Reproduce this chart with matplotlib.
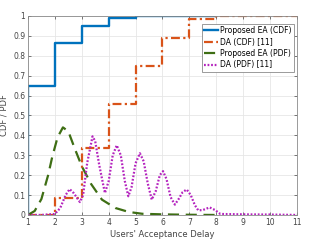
import numpy as np
import matplotlib.pyplot as plt

# CDF step values
ea_cdf_x = [1, 1, 2, 3, 4, 5, 8]
ea_cdf_y = [0, 0.65, 0.865, 0.95, 0.99, 1.0, 1.0]
da_cdf_x = [1, 2, 3, 4, 5, 6, 7, 8, 11]
da_cdf_y = [0, 0.085, 0.335, 0.555, 0.75, 0.89, 0.985, 1.0, 1.0]

# PDF curves
ea_pdf_x = [1.0, 1.25, 1.5, 1.75, 1.9, 2.1, 2.3, 2.5, 2.75, 3.0, 3.35, 3.75,
            4.25, 4.75, 5.25, 6.0, 7.0, 8.0]
ea_pdf_y = [0.0, 0.02, 0.08, 0.2, 0.29, 0.39, 0.44, 0.42, 0.33, 0.245, 0.155,
            0.077, 0.035, 0.015, 0.006, 0.003, 0.001, 0.0]

da_pdf_x = [1.0, 1.5, 2.0, 2.2, 2.4, 2.55, 2.7, 2.93, 3.05, 3.2, 3.4, 3.5,
            3.65, 3.86, 4.0, 4.15, 4.3, 4.45, 4.6, 4.73, 4.85, 5.0, 5.16,
            5.3, 5.45, 5.6, 5.75, 5.9, 6.02, 6.15, 6.3, 6.46, 6.6, 6.75, 6.9,
            7.05, 7.2, 7.33, 7.5, 7.75, 7.95, 8.15, 9.0, 10.0, 11.0]
da_pdf_y = [0.0, 0.0, 0.005, 0.035, 0.10, 0.13, 0.11, 0.065, 0.10, 0.26, 0.395,
            0.37, 0.25, 0.11, 0.17, 0.30, 0.35, 0.30, 0.17, 0.094, 0.14, 0.26,
            0.31, 0.27, 0.16, 0.077, 0.12, 0.20, 0.22, 0.18, 0.09, 0.052, 0.08,
            0.115, 0.128, 0.10, 0.05, 0.023, 0.025, 0.038, 0.025, 0.005, 0.003,
            0.002, 0.0]

fig = plt.figure(figsize=(3.14, 2.41), dpi=100)
ax = fig.add_axes([0.089, 0.108, 0.857, 0.826])

ax.step(ea_cdf_x, ea_cdf_y, where='post', color='#0072BD', lw=1.7,
        label='Proposed EA (CDF)')
ax.step(da_cdf_x, da_cdf_y, where='post', color='#D95319', lw=1.6,
        linestyle=(0, (4, 1.5, 1, 1.5)), label='DA (CDF) [11]')
ax.plot(ea_pdf_x, ea_pdf_y, color='#3E6E14', lw=1.6,
        linestyle=(0, (5, 3)), label='Proposed EA (PDF)')
ax.plot(da_pdf_x, da_pdf_y, color='#B422BE', lw=1.6,
        linestyle=(0, (0.8, 0.8)), label='DA (PDF) [11]')

ax.set_xlim(1, 11)
ax.set_ylim(0, 1)
ax.set_xticks(range(1, 12))
ax.set_yticks(np.arange(0, 1.01, 0.1))
ax.set_yticklabels(['0', '0.1', '0.2', '0.3', '0.4', '0.5', '0.6', '0.7',
                    '0.8', '0.9', '1'])
ax.tick_params(direction='in', labelsize=5.5, length=2.5, width=0.5,
               colors='#444444', pad=2, top=True, right=True)
ax.grid(True, color='#e6e6e6', lw=0.6)
ax.set_axisbelow(True)
for s in ax.spines.values():
    s.set_color('#8a8a8a')
    s.set_linewidth(0.6)

ax.set_xlabel("Users' Acceptance Delay", fontsize=6, color='#444444', labelpad=2)
ax.set_ylabel('CDF / PDF', fontsize=6, color='#444444', labelpad=3)

leg = ax.legend(loc='upper right', bbox_to_anchor=(0.989, 0.96), fontsize=5.5,
                handlelength=1.9, handletextpad=0.25, borderpad=0.3,
                labelspacing=0.32, fancybox=False, framealpha=1,
                borderaxespad=0)
leg.get_frame().set_edgecolor('#8a8a8a')
leg.get_frame().set_linewidth(0.6)

fig.savefig('out.png', dpi=100)
